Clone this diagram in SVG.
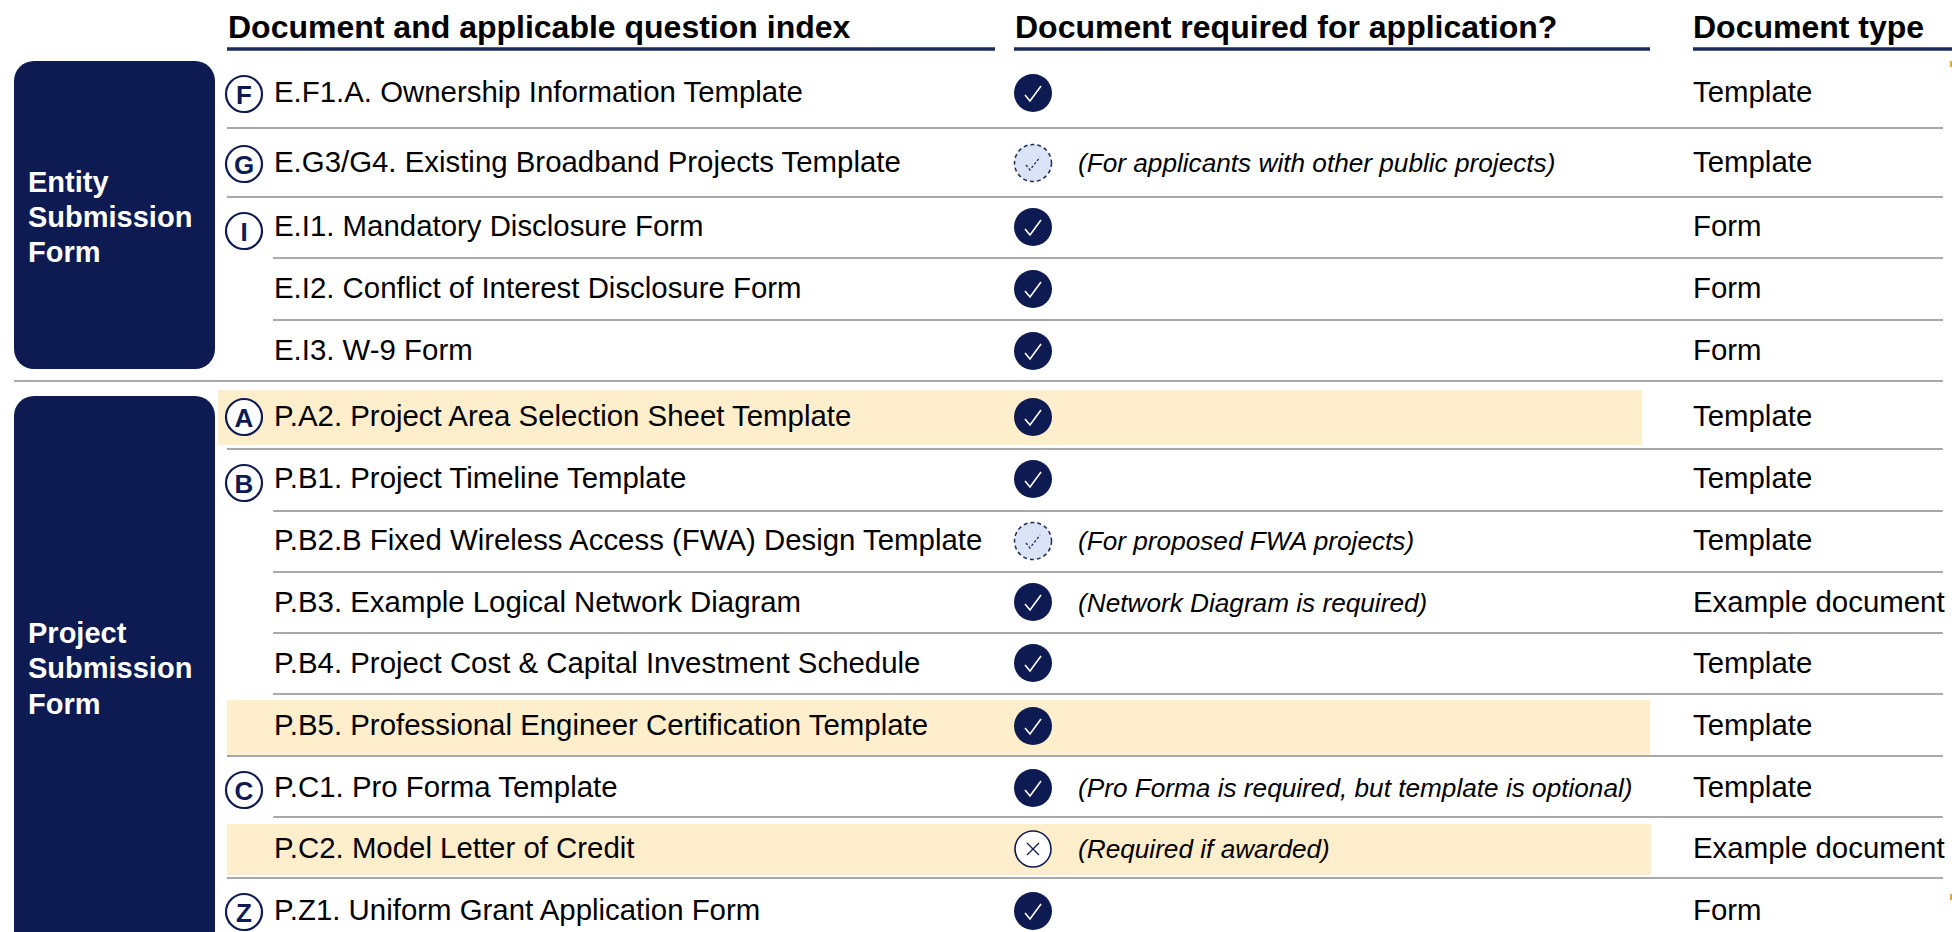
<svg xmlns="http://www.w3.org/2000/svg" xmlns:xlink="http://www.w3.org/1999/xlink" width="1952" height="932" viewBox="0 0 1952 932">
<style>
.hd{font-family:"Liberation Sans",Arial,sans-serif;font-weight:bold;font-size:32px;fill:#000}
.hl{stroke:#1c2a5c;stroke-width:3.5}
.t{font-family:"Liberation Sans",Arial,sans-serif;font-size:29.4px;fill:#000}
.n{font-family:"Liberation Sans",Arial,sans-serif;font-style:italic;font-size:26.2px;fill:#000}
.sep{stroke:#a8a8a8;stroke-width:2}
.box{fill:#0e1b52}
.bl{font-family:"Liberation Sans",Arial,sans-serif;font-weight:bold;font-size:29px;fill:#fff}
.hi{fill:#feeecb}
.bc{fill:#fff;stroke:#0e1b52;stroke-width:2.2}
.bt{font-family:"Liberation Sans",Arial,sans-serif;font-weight:bold;font-size:26px;fill:#0e1b52;text-anchor:middle}
</style>
<defs>
<g id="chk"><circle r="19" fill="#0e1b52"/><path d="M-8 2 L-3 8 L8 -7" fill="none" stroke="#fff" stroke-width="1.6"/></g>
<g id="opt"><circle r="18.5" fill="#dbe3f7" stroke="#1c2a5c" stroke-width="1.5" stroke-dasharray="4 3"/><path d="M-7 2 L-3 7 L7 -6" fill="none" stroke="#1c2a5c" stroke-width="1.3" stroke-dasharray="2.5 2"/></g>
<g id="no"><circle r="18" fill="#fff" stroke="#0e1b52" stroke-width="1.6"/><path d="M-6 -6 L6 6 M6 -6 L-6 6" fill="none" stroke="#0e1b52" stroke-width="1.3"/></g>
</defs>

<g id="header">
<text class="hd" x="228" y="38">Document and applicable question index</text>
<text class="hd" x="1015" y="38">Document required for application?</text>
<text class="hd" x="1693" y="38">Document type</text>
<line class="hl" x1="227" y1="49" x2="995" y2="49"/>
<line class="hl" x1="1014" y1="49" x2="1650" y2="49"/>
<line class="hl" x1="1693" y1="49" x2="1952" y2="49"/>
</g>

<g id="highlights">
<rect class="hi" x="218" y="390" width="1424" height="55"/>
<rect class="hi" x="227" y="700" width="1423" height="55"/>
<rect class="hi" x="227" y="824" width="1424" height="51"/>
</g>

<g id="separators">
<line class="sep" x1="227" y1="128" x2="1943" y2="128"/>
<line class="sep" x1="227" y1="197" x2="1943" y2="197"/>
<line class="sep" x1="273" y1="258" x2="1943" y2="258"/>
<line class="sep" x1="273" y1="320" x2="1943" y2="320"/>
<line class="sep" x1="14" y1="381" x2="1943" y2="381"/>
<line class="sep" x1="227" y1="449" x2="1943" y2="449"/>
<line class="sep" x1="273" y1="511" x2="1943" y2="511"/>
<line class="sep" x1="273" y1="572" x2="1943" y2="572"/>
<line class="sep" x1="273" y1="633" x2="1943" y2="633"/>
<line class="sep" x1="273" y1="694" x2="1943" y2="694"/>
<line class="sep" x1="227" y1="756" x2="1943" y2="756"/>
<line class="sep" x1="273" y1="817" x2="1943" y2="817"/>
<line class="sep" x1="227" y1="878" x2="1943" y2="878"/>
</g>

<g id="entity-box">
<rect class="box" x="14" y="61" width="201" height="308" rx="20"/>
<text class="bl" x="28" y="192">Entity</text>
<text class="bl" x="28" y="227">Submission</text>
<text class="bl" x="28" y="262">Form</text>
</g>

<g id="project-box">
<rect class="box" x="14" y="396" width="201" height="560" rx="20"/>
<text class="bl" x="28" y="643">Project</text>
<text class="bl" x="28" y="678">Submission</text>
<text class="bl" x="28" y="714">Form</text>
</g>

<g id="badges">
<circle class="bc" cx="244" cy="94" r="18"/><text class="bt" x="244" y="103.5">F</text>
<circle class="bc" cx="244" cy="164" r="18"/><text class="bt" x="244" y="173.5">G</text>
<circle class="bc" cx="244" cy="231" r="18"/><text class="bt" x="244" y="240.5">I</text>
<circle class="bc" cx="244" cy="417" r="18"/><text class="bt" x="244" y="426.5">A</text>
<circle class="bc" cx="244" cy="483" r="18"/><text class="bt" x="244" y="492.5">B</text>
<circle class="bc" cx="244" cy="790" r="18"/><text class="bt" x="244" y="799.5">C</text>
<circle class="bc" cx="244" cy="912" r="18"/><text class="bt" x="244" y="921.5">Z</text>
</g>

<g id="row-F1A"><text class="t" x="274" y="102">E.F1.A. Ownership Information Template</text><use href="#chk" x="1033" y="93"/><text class="t" x="1693" y="102">Template</text></g>
<g id="row-G3G4"><text class="t" x="274" y="172">E.G3/G4. Existing Broadband Projects Template</text><use href="#opt" x="1033" y="163"/><text class="n" x="1078" y="172">(For applicants with other public projects)</text><text class="t" x="1693" y="172">Template</text></g>
<g id="row-I1"><text class="t" x="274" y="236">E.I1. Mandatory Disclosure Form</text><use href="#chk" x="1033" y="227"/><text class="t" x="1693" y="236">Form</text></g>
<g id="row-I2"><text class="t" x="274" y="298">E.I2. Conflict of Interest Disclosure Form</text><use href="#chk" x="1033" y="289"/><text class="t" x="1693" y="298">Form</text></g>
<g id="row-I3"><text class="t" x="274" y="360">E.I3. W-9 Form</text><use href="#chk" x="1033" y="351"/><text class="t" x="1693" y="360">Form</text></g>
<g id="row-A2"><text class="t" x="274" y="426">P.A2. Project Area Selection Sheet Template</text><use href="#chk" x="1033" y="417"/><text class="t" x="1693" y="426">Template</text></g>
<g id="row-B1"><text class="t" x="274" y="488">P.B1. Project Timeline Template</text><use href="#chk" x="1033" y="479"/><text class="t" x="1693" y="488">Template</text></g>
<g id="row-B2B"><text class="t" x="274" y="550">P.B2.B Fixed Wireless Access (FWA) Design Template</text><use href="#opt" x="1033" y="541"/><text class="n" x="1078" y="550">(For proposed FWA projects)</text><text class="t" x="1693" y="550">Template</text></g>
<g id="row-B3"><text class="t" x="274" y="612">P.B3. Example Logical Network Diagram</text><use href="#chk" x="1033" y="602"/><text class="n" x="1078" y="612">(Network Diagram is required)</text><text class="t" x="1693" y="612">Example document</text></g>
<g id="row-B4"><text class="t" x="274" y="673">P.B4. Project Cost &amp; Capital Investment Schedule</text><use href="#chk" x="1033" y="663"/><text class="t" x="1693" y="673">Template</text></g>
<g id="row-B5"><text class="t" x="274" y="735">P.B5. Professional Engineer Certification Template</text><use href="#chk" x="1033" y="726"/><text class="t" x="1693" y="735">Template</text></g>
<g id="row-C1"><text class="t" x="274" y="797">P.C1. Pro Forma Template</text><use href="#chk" x="1033" y="788"/><text class="n" x="1078" y="797">(Pro Forma is required, but template is optional)</text><text class="t" x="1693" y="797">Template</text></g>
<g id="row-C2"><text class="t" x="274" y="858">P.C2. Model Letter of Credit</text><use href="#no" x="1033" y="849"/><text class="n" x="1078" y="858">(Required if awarded)</text><text class="t" x="1693" y="858">Example document</text></g>
<g id="row-Z1"><text class="t" x="274" y="920">P.Z1. Uniform Grant Application Form</text><use href="#chk" x="1033" y="911"/><text class="t" x="1693" y="920">Form</text></g>

<g id="edge-marks">
<rect x="1950" y="61" width="2" height="6" fill="#e8a33c"/>
<rect x="1950" y="894" width="2" height="6" fill="#e8a33c"/>
</g>
</svg>
